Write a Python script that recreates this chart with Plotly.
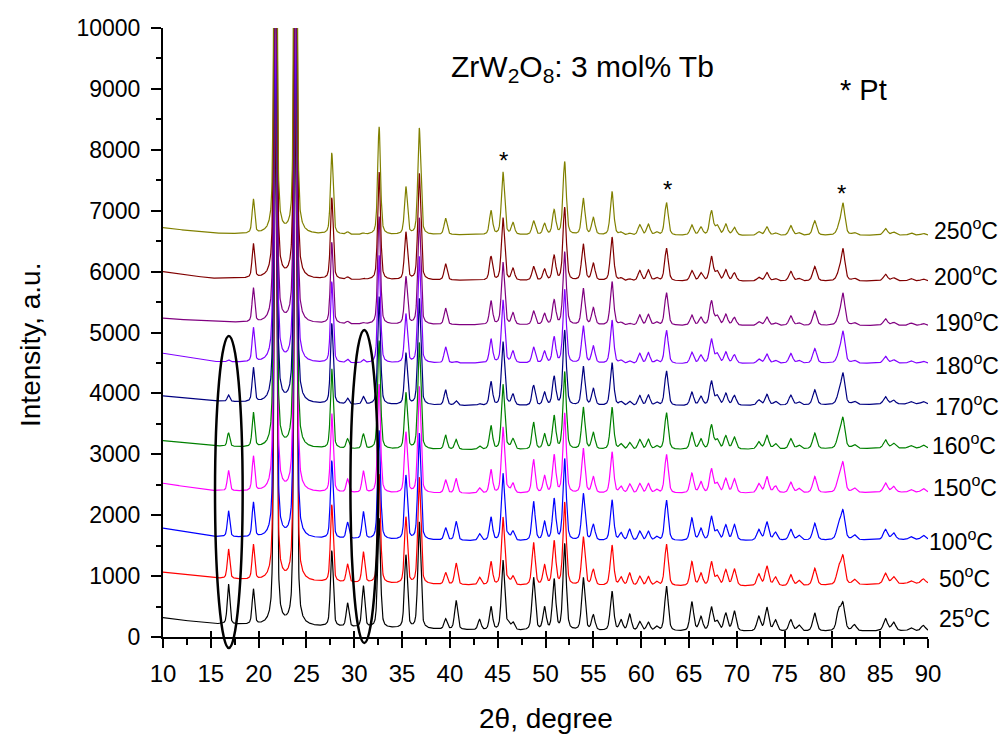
import numpy as np
import plotly.graph_objects as go

# ---------------- data ----------------
temps = ["25", "50", "100", "150", "160", "170", "180", "190", "200", "250"]
colors = ["#000000", "#FF0000", "#0000FF", "#FF00FF", "#008000",
          "#000080", "#8000FF", "#800080", "#800000", "#808000"]

# peak positions (2theta, degree)
peak_pos = [16.85, 19.45, 21.75, 23.85, 27.65, 29.3, 30.95, 32.6, 35.4, 36.8,
            39.55, 40.65, 43.1, 44.3, 45.55, 46.1, 46.6, 48.75, 49.9, 50.9,
            52.0, 53.95, 55.0, 56.95, 57.9, 58.8, 59.85, 60.75, 61.6, 62.65,
            65.3, 66.25, 67.35, 67.95, 68.85, 69.75, 72.3, 73.15, 74.05, 75.65,
            76.5, 78.15, 80.65, 81.1, 82.3, 85.55, 86.4, 88.2, 89.5]
# peak heights above background at 25 C and at 250 C
height_25 = [660, 580, 9000, 9000, 1250, 390, 680, 1800, 1200, 1750,
             170, 480, 170, 380, 1150, 100, 120, 870, 370, 830,
             1420, 870, 250, 650, 170, 270, 150, 140, 70, 740,
             480, 230, 390, 150, 290, 330, 240, 390, 180, 190,
             100, 300, 320, 430, 100, 200, 140, 50, 90]
height_250 = [0, 560, 9000, 9000, 1340, 40, 20, 1770, 780, 1750,
              270, 0, 0, 390, 1030, 0, 190, 230, 180, 400,
              1200, 600, 280, 720, 40, 30, 170, 180, 50, 540,
              170, 130, 400, 150, 180, 130, 60, 140, 40, 160,
              40, 240, 100, 520, 40, 110, 50, 40, 30]
# fraction of the high-temperature pattern in each measurement
phase_mix = [0.0, 0.26, 0.35, 0.49, 0.66, 0.84, 0.95, 1.0, 1.0, 1.0]

# background levels (offset curves) at a few 2theta values
bg_theta = [10, 15, 20, 30, 45, 60, 75, 90]
bg_levels = [
    [317, 215, 185, 150, 100, 90, 85, 100],
    [1062, 969, 920, 880, 840, 830, 830, 880],
    [1785, 1648, 1620, 1600, 1570, 1570, 1580, 1600],
    [2523, 2402, 2380, 2360, 2350, 2350, 2360, 2376],
    [3223, 3136, 3100, 3080, 3070, 3070, 3080, 3100],
    [3957, 3875, 3840, 3810, 3793, 3790, 3800, 3826],
    [4658, 4521, 4500, 4490, 4494, 4480, 4490, 4494],
    [5233, 5178, 5150, 5130, 5120, 5110, 5110, 5115],
    [5999, 5889, 5880, 5860, 5850, 5840, 5840, 5846],
    [6721, 6628, 6610, 6600, 6600, 6590, 6590, 6596],
]

pt_marks_x = [45.6, 62.8, 81.0]
pt_marks_y = [7830, 7340, 7290]

x_ticks = list(range(10, 95, 5))
y_ticks = list(range(0, 11000, 1000))

# ---------------- build the patterns ----------------
theta = np.arange(10.0, 90.0001, 0.02)


def profile(center, fwhm):
    hw = fwhm / 2.0
    lor = hw ** 2 / ((theta - center) ** 2 + hw ** 2)
    gau = np.exp(-np.log(2) * ((theta - center) / hw) ** 2)
    return 0.45 * lor + 0.55 * gau


fig = go.Figure()
for i, t in enumerate(temps):
    w = phase_mix[i]
    y = np.interp(theta, bg_theta, bg_levels[i])
    for p, h1, h2 in zip(peak_pos, height_25, height_250):
        h = h1 * (1 - w) + h2 * w
        if h <= 0:
            continue
        y = y + h * profile(p, 0.28 + 0.003 * (p - 10))
    fig.add_trace(go.Scatter(x=theta, y=y, mode="lines",
                             line=dict(color=colors[i], width=1.2),
                             name=t + " C", showlegend=False,
                             hoverinfo="skip"))

# helper axis to draw the inner part of the crossing x ticks
fig.add_trace(go.Scatter(x=[None], y=[None], xaxis="x2", showlegend=False))

font_family = "Liberation Sans, Arial, sans-serif"

# plot area in pixels (used to place side labels in paper units)
PL, PR, PT, PB = 163, 928, 28, 637


def px_to_paper_x(px):
    return (px - PL) / (PR - PL)


def py_to_paper_y(py):
    return (PB - py) / (PB - PT)


# temperature labels: left edge (px) and vertical centre (px)
label_px = [936.5, 937, 926.5, 930.5, 929.5, 933, 933, 933, 931.7, 931.7]
label_py = [617, 577, 540, 486, 444, 405, 364, 321, 275, 229]
annotations = []
for i, t in enumerate(temps):
    annotations.append(dict(x=px_to_paper_x(label_px[i]), y=py_to_paper_y(label_py[i]),
                            xref="paper", yref="paper",
                            text=t + "<sup>o</sup>C", showarrow=False,
                            xanchor="left", yanchor="middle",
                            font=dict(family=font_family, size=23, color="black")))

for px_, py_ in zip(pt_marks_x, pt_marks_y):
    annotations.append(dict(x=px_, y=py_, xref="x", yref="y", text="*",
                            showarrow=False, xanchor="center", yanchor="middle",
                            font=dict(family=font_family, size=24, color="black")))

annotations.append(dict(x=53.9, y=9340, xref="x", yref="y",
                        text="ZrW<sub>2</sub>O<sub>8</sub>: 3 mol% Tb",
                        showarrow=False, xanchor="center", yanchor="middle",
                        font=dict(family=font_family, size=30, color="black")))
annotations.append(dict(x=83.3, y=8980, xref="x", yref="y", text="* Pt",
                        showarrow=False, xanchor="center", yanchor="middle",
                        font=dict(family=font_family, size=29, color="black")))
annotations.append(dict(x=0.5, y=py_to_paper_y(718), xref="paper", yref="paper",
                        text="2θ, degree", showarrow=False,
                        xanchor="center", yanchor="middle",
                        font=dict(family=font_family, size=28, color="black")))
annotations.append(dict(x=px_to_paper_x(31), y=py_to_paper_y(345), xref="paper", yref="paper",
                        text="Intensity, a.u.", showarrow=False, textangle=-90,
                        xanchor="center", yanchor="middle",
                        font=dict(family=font_family, size=28, color="black")))

shapes = [
    dict(type="circle", xref="x", yref="paper", x0=15.44, x1=18.33,
         y0=py_to_paper_y(648), y1=py_to_paper_y(336), line=dict(color="black", width=2.5)),
    dict(type="circle", xref="x", yref="paper", x0=29.6, x1=32.5,
         y0=py_to_paper_y(643), y1=py_to_paper_y(330), line=dict(color="black", width=2.5)),
]

fig.update_layout(
    width=1002, height=736,
    margin=dict(l=PL, r=1002 - PR, t=PT, b=736 - PB),
    paper_bgcolor="white", plot_bgcolor="white",
    font=dict(family=font_family, size=23, color="black"),
    annotations=annotations, shapes=shapes,
    xaxis=dict(range=[10, 90], tickvals=x_ticks, ticks="outside", ticklen=9,
               tickwidth=2, tickcolor="black", showline=True, linewidth=2,
               linecolor="black", showgrid=False, zeroline=False,
               ticklabelstandoff=5,
               tickfont=dict(family=font_family, size=24),
               minor=dict(dtick=2.5, tick0=10, ticks="outside", ticklen=6,
                          tickwidth=2, tickcolor="black")),
    xaxis2=dict(range=[10, 90], overlaying="x", anchor="y", side="bottom",
                tickvals=x_ticks, ticks="inside", ticklen=6, tickwidth=2,
                tickcolor="black", showticklabels=False, showline=False,
                showgrid=False, zeroline=False),
    yaxis=dict(range=[0, 10000], tickvals=y_ticks, tickformat="d",
               ticks="outside", ticklen=10,
               tickwidth=2, tickcolor="black", showline=True, linewidth=2,
               linecolor="black", showgrid=False, zeroline=False,
               ticklabelstandoff=6,
               tickfont=dict(family=font_family, size=23),
               minor=dict(dtick=500, tick0=0, ticks="outside", ticklen=5,
                          tickwidth=2, tickcolor="black")),
)

fig.write_html("out.html", config={"displayModeBar": False},
               post_script="document.body.style.margin='0';document.body.style.padding='0';")
